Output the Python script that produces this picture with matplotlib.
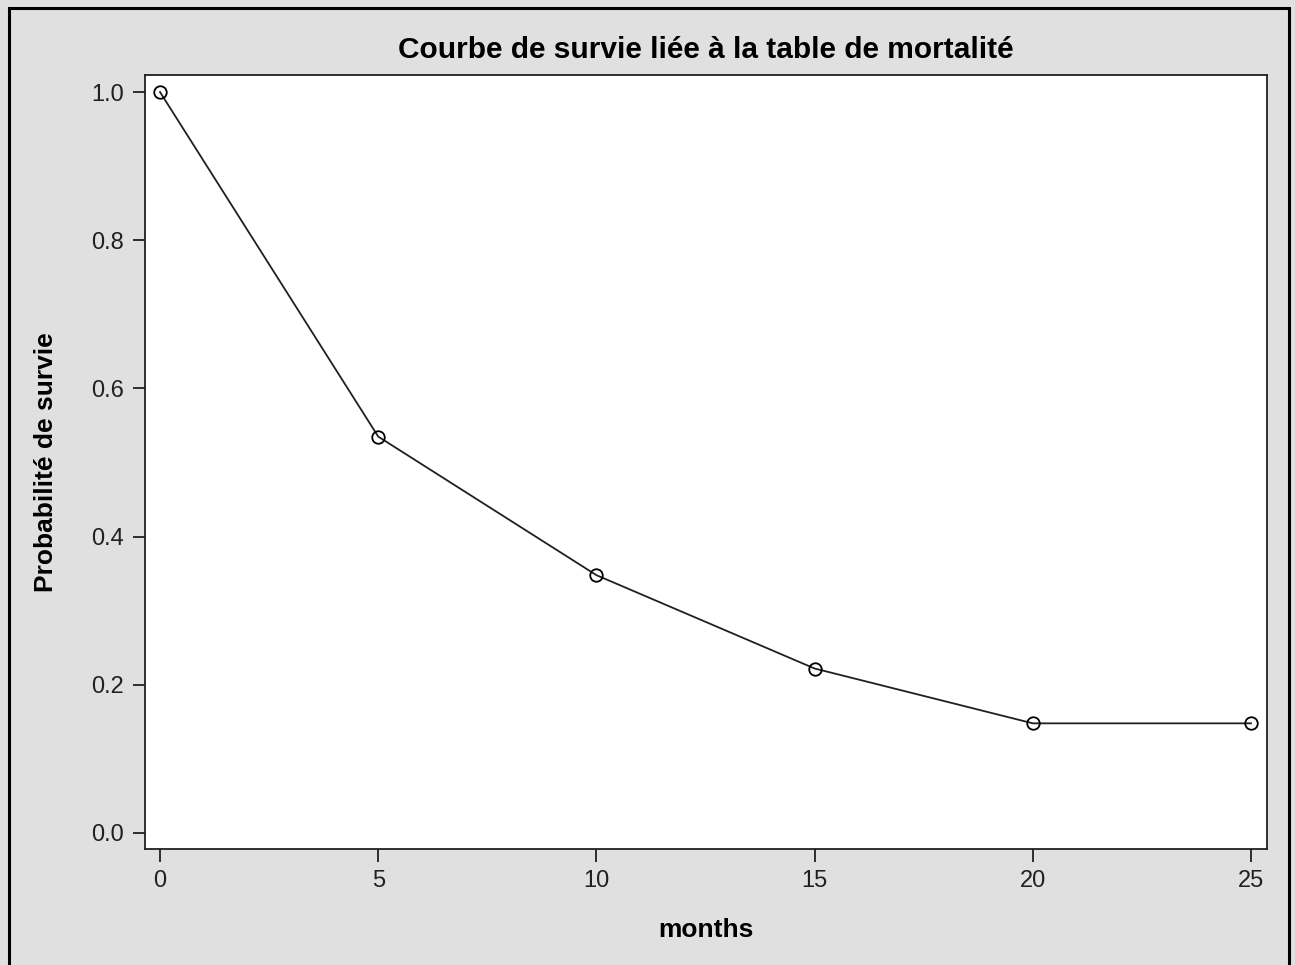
import matplotlib
matplotlib.use("Agg")
import matplotlib.pyplot as plt
from matplotlib.patches import Rectangle

# survival table values
months = [0, 5, 10, 15, 20, 25]
survie = [1.0, 0.535, 0.348, 0.222, 0.148, 0.148]
xticks = [0, 5, 10, 15, 20, 25]
yticks = [0.0, 0.2, 0.4, 0.6, 0.8, 1.0]

plt.rcParams['font.family'] = ['Liberation Sans', 'DejaVu Sans']

W, H = 1295, 965
fig = plt.figure(figsize=(W / 100, H / 100), dpi=100)
fig.patch.set_facecolor('#e0e0e0')

# outer frame
fig.patches.append(Rectangle((9 / W, -0.02), (1289 - 9) / W, 1.02 - 8 / H,
                             transform=fig.transFigure, fill=False,
                             edgecolor='black', linewidth=2.2))

ax = fig.add_axes([145 / W, 1 - 849 / H, (1267 - 145) / W, (849 - 75) / H])
ax.set_facecolor('white')
ax.plot(months, survie, color='#202020', linewidth=1.3,
        marker='o', markersize=9, markerfacecolor='none',
        markeredgecolor='black', markeredgewidth=1.3)

ax.set_xlim(-0.344, 25.367)
ax.set_ylim(-0.0216, 1.023)
ax.set_xticks(xticks)
ax.set_xticklabels([str(t) for t in xticks])
ax.set_yticks(yticks)
ax.set_yticklabels([f"{t:.1f}" for t in yticks])
ax.tick_params(direction='out', length=9, width=1.3, labelsize=17,
               colors='#202020', pad=6)
for s in ax.spines.values():
    s.set_linewidth(1.3)
    s.set_color('#202020')

ax.set_title('Courbe de survie liée à la table de mortalité',
             fontsize=21.5, fontweight='bold', pad=12)
ax.set_xlabel('months', fontsize=19, fontweight='bold', labelpad=19)
ax.set_ylabel('Probabilité de survie', fontsize=19, fontweight='bold', labelpad=24)

fig.savefig('out.png', dpi=100, facecolor=fig.get_facecolor())
